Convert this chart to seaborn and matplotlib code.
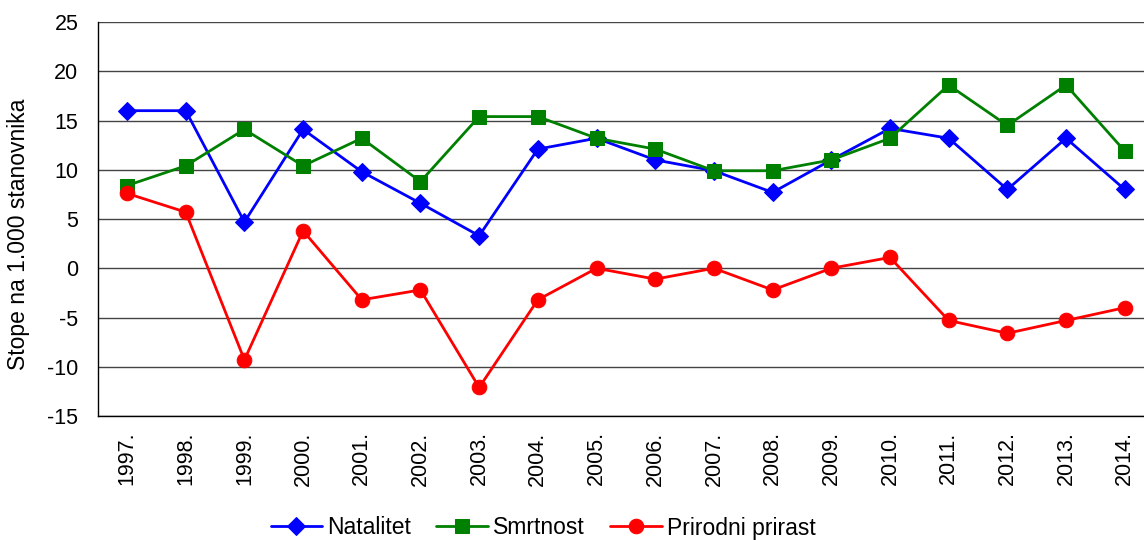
import numpy as np
import pandas as pd
import matplotlib
matplotlib.use("Agg")
import matplotlib.pyplot as plt
import seaborn as sns

# data
godine = ['1997.', '1998.', '1999.', '2000.', '2001.', '2002.', '2003.', '2004.', '2005.',
          '2006.', '2007.', '2008.', '2009.', '2010.', '2011.', '2012.', '2013.', '2014.']
natalitet = [16.0, 16.0, 4.7, 14.1, 9.8, 6.6, 3.3, 12.1, 13.2,
             11.0, 9.9, 7.7, 11.0, 14.2, 13.2, 8.0, 13.2, 8.0]
smrtnost = [8.4, 10.4, 14.1, 10.4, 13.2, 8.8, 15.4, 15.4, 13.2,
            12.1, 9.9, 9.9, 11.0, 13.2, 18.6, 14.5, 18.6, 11.9]
prirast = [7.6, 5.7, -9.3, 3.8, -3.2, -2.2, -12.1, -3.2, 0.0,
           -1.1, 0.0, -2.2, 0.0, 1.1, -5.3, -6.6, -5.3, -4.0]

serije = [
    ('Natalitet', natalitet, '#0000FF', 'D', 9),
    ('Smrtnost', smrtnost, '#008000', 's', 10),
    ('Prirodni prirast', prirast, '#FF0000', 'o', 10.5),
]

sns.set_style("white")
plt.rcParams['font.family'] = ['Liberation Sans', 'DejaVu Sans']
plt.rcParams['axes.unicode_minus'] = False
plt.rcParams['text.color'] = 'black'
plt.rcParams['xtick.color'] = 'black'
plt.rcParams['ytick.color'] = 'black'
plt.rcParams['axes.labelcolor'] = 'black'

fig = plt.figure(figsize=(11.44, 5.40), dpi=100)
ax = fig.add_axes([0.0854, 0.2296, 0.9234, 0.7296])

x = np.arange(len(godine))
for naziv, vrijednosti, boja, marker, ms in serije:
    df = pd.DataFrame({'x': x, 'y': vrijednosti})
    sns.lineplot(data=df, x='x', y='y', ax=ax, color=boja, marker=marker,
                 markersize=ms, markeredgecolor=boja, linewidth=2, label=naziv)

ax.set_ylim(-15, 25)
ax.set_yticks(np.arange(-15, 26, 5))
ax.set_xlim(-0.5, len(godine) - 0.5)
ax.set_xticks(np.arange(-0.5, len(godine), 1.0))
ax.set_xticklabels([])
ax.set_xticks(x, minor=True)
ax.set_xticklabels(godine, minor=True, rotation=90, fontsize=15.5)
ax.tick_params(axis='x', which='major', length=6, width=1, color='black', direction='out')
ax.tick_params(axis='x', which='minor', length=0, pad=11)
ax.tick_params(axis='y', length=6, width=1, color='black', direction='out', labelsize=15.5, pad=8)

ax.grid(axis='y', color='#444444', linewidth=1)
ax.set_axisbelow(True)
for s in ['top', 'right']:
    ax.spines[s].set_visible(False)
for s in ['left', 'bottom']:
    ax.spines[s].set_color('black')
    ax.spines[s].set_linewidth(1)

ax.set_xlabel('')
ax.set_ylabel('Stope na 1.000 stanovnika', fontsize=16.5)
# label anchor is its right edge once rotated
ax.yaxis.set_label_coords((30 - 97.7) / (0.9234 * 1144), 0.46)

leg = ax.legend(loc='center', bbox_to_anchor=(543 / 1144, 12 / 540), bbox_transform=fig.transFigure,
                ncol=3, frameon=False, fontsize=16.5, handlelength=2.25, handletextpad=0.22,
                columnspacing=1.1)

fig.savefig('out.png', dpi=100)
